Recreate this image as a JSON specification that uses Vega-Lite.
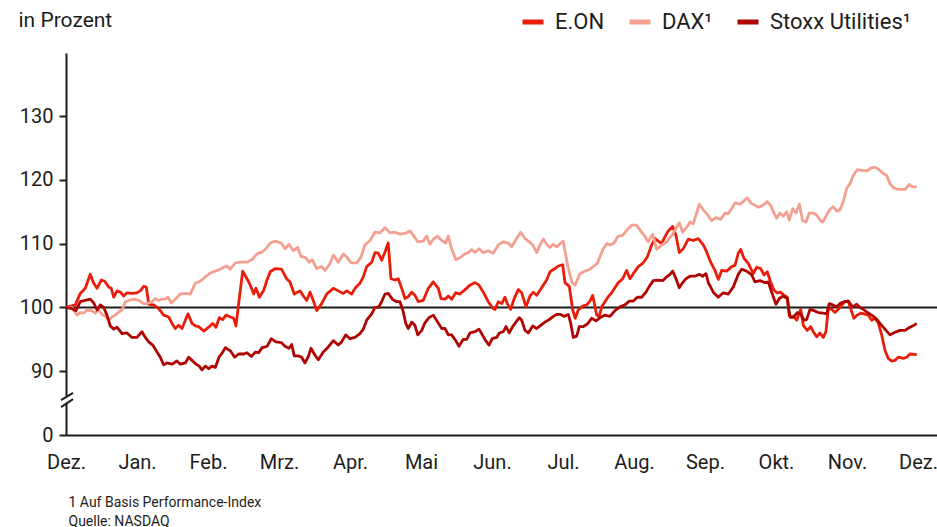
{
"$schema":"https://vega.github.io/schema/vega-lite/v6.json",
"width":871,"height":382,
"autosize":{"type":"none"},
"padding":{"left":66,"top":53,"right":0,"bottom":92},
"background":"#ffffff",
"config":{"view":{"stroke":null},"font":"Roboto",
"axis":{"domainColor":"#1d1d1b","domainWidth":2,"tickColor":"#1d1d1b","tickWidth":2,"labelColor":"#1d1d1b","labelFont":"Roboto","labelFontSize":20,"grid":false,"titleFont":"Roboto","titleColor":"#1d1d1b","titleFontWeight":"normal"}},
"encoding":{
"x":{"field":"t","type":"quantitative","scale":{"domain":[0,12.268],"nice":false,"zero":false},
"axis":{"values":[0,1,2,3,4,5,6,7,8,9,10,11,12],"labelExpr":"['Dez.','Jan.','Feb.','Mrz.','Apr.','Mai','Jun.','Jul.','Aug.','Sep.','Okt.','Nov.','Dez.'][datum.value]","ticks":false,"labelPadding":17,"labelFlush":false,"labelOverlap":false,"labelBound":false,
"title":["1 Auf Basis Performance-Index","Quelle: NASDAQ"],"titleFontSize":14,"titleAnchor":"start","titleAlign":"left","titleX":2,"titleY":60,"titleBaseline":"top","titleLineHeight":19}},
"y":{"field":"v","type":"quantitative","scale":{"domain":[80,139.9],"nice":false,"zero":false},
"axis":{"values":[80,90,100,110,120,130],"labelExpr":"datum.value == 80 ? '0' : datum.label","tickSize":7,"labelPadding":6,
"title":"in Prozent","titleAngle":0,"titleAlign":"left","titleBaseline":"middle","titleX":-48,"titleY":-33,"titleFontSize":21}}
},
"layer":[
{"data":{"values":[{"t":0,"t2":12.268,"v":100}]},"mark":{"type":"rule","color":"#1d1d1b","strokeWidth":2},"encoding":{"x2":{"field":"t2"}}},
{"data":{"values":[
{"s":"E","t":0,"v":100},{"s":"E","t":0.131,"v":100.4},{"s":"E","t":0.201,"v":102.2},{"s":"E","t":0.272,"v":103.0},{"s":"E","t":0.342,"v":105.2},{"s":"E","t":0.390,"v":103.8},{"s":"E","t":0.437,"v":103.0},{"s":"E","t":0.497,"v":104.3},{"s":"E","t":0.545,"v":104.1},{"s":"E","t":0.601,"v":103.2},{"s":"E","t":0.638,"v":103.0},{"s":"E","t":0.672,"v":101.6},{"s":"E","t":0.718,"v":102.6},{"s":"E","t":0.765,"v":102.4},{"s":"E","t":0.813,"v":101.8},{"s":"E","t":0.859,"v":102.3},{"s":"E","t":0.930,"v":102.2},{"s":"E","t":1.0,"v":102.3},{"s":"E","t":1.046,"v":102.6},{"s":"E","t":1.094,"v":103.3},{"s":"E","t":1.131,"v":103.2},{"s":"E","t":1.165,"v":100.5},{"s":"E","t":1.235,"v":100.4},{"s":"E","t":1.306,"v":99.8},{"s":"E","t":1.376,"v":98.8},{"s":"E","t":1.446,"v":98.5},{"s":"E","t":1.493,"v":97.5},{"s":"E","t":1.539,"v":96.7},{"s":"E","t":1.587,"v":97.2},{"s":"E","t":1.634,"v":96.7},{"s":"E","t":1.718,"v":99.0},{"s":"E","t":1.775,"v":97.5},{"s":"E","t":1.821,"v":97.1},{"s":"E","t":1.869,"v":97.0},{"s":"E","t":1.939,"v":96.3},{"s":"E","t":2.010,"v":96.9},{"s":"E","t":2.066,"v":97.5},{"s":"E","t":2.113,"v":96.9},{"s":"E","t":2.159,"v":98.4},{"s":"E","t":2.207,"v":98.1},{"s":"E","t":2.254,"v":98.8},{"s":"E","t":2.314,"v":98.5},{"s":"E","t":2.362,"v":98.3},{"s":"E","t":2.394,"v":97.1},{"s":"E","t":2.432,"v":100.6},{"s":"E","t":2.489,"v":105.7},{"s":"E","t":2.549,"v":104.5},{"s":"E","t":2.596,"v":103.5},{"s":"E","t":2.644,"v":102.1},{"s":"E","t":2.676,"v":103.0},{"s":"E","t":2.723,"v":101.6},{"s":"E","t":2.785,"v":102.7},{"s":"E","t":2.831,"v":104.3},{"s":"E","t":2.877,"v":105.6},{"s":"E","t":2.948,"v":106.1},{"s":"E","t":3.035,"v":106.0},{"s":"E","t":3.108,"v":104.5},{"s":"E","t":3.155,"v":104.0},{"s":"E","t":3.215,"v":102.1},{"s":"E","t":3.296,"v":102.6},{"s":"E","t":3.356,"v":101.6},{"s":"E","t":3.390,"v":101.1},{"s":"E","t":3.437,"v":102.4},{"s":"E","t":3.483,"v":101.1},{"s":"E","t":3.531,"v":99.5},{"s":"E","t":3.601,"v":100.6},{"s":"E","t":3.672,"v":102.1},{"s":"E","t":3.765,"v":103.0},{"s":"E","t":3.835,"v":102.6},{"s":"E","t":3.906,"v":102.2},{"s":"E","t":3.954,"v":102.6},{"s":"E","t":4.024,"v":102.1},{"s":"E","t":4.070,"v":103.0},{"s":"E","t":4.141,"v":103.8},{"s":"E","t":4.187,"v":104.8},{"s":"E","t":4.235,"v":106.4},{"s":"E","t":4.306,"v":107.1},{"s":"E","t":4.352,"v":108.6},{"s":"E","t":4.399,"v":108.5},{"s":"E","t":4.446,"v":107.4},{"s":"E","t":4.493,"v":108.7},{"s":"E","t":4.539,"v":110.1},{"s":"E","t":4.577,"v":104.5},{"s":"E","t":4.634,"v":104.3},{"s":"E","t":4.680,"v":104.5},{"s":"E","t":4.728,"v":103.0},{"s":"E","t":4.775,"v":101.4},{"s":"E","t":4.821,"v":101.7},{"s":"E","t":4.869,"v":102.4},{"s":"E","t":4.915,"v":101.9},{"s":"E","t":4.962,"v":100.9},{"s":"E","t":5.032,"v":101.1},{"s":"E","t":5.103,"v":103.0},{"s":"E","t":5.173,"v":104.0},{"s":"E","t":5.244,"v":103.0},{"s":"E","t":5.282,"v":101.4},{"s":"E","t":5.338,"v":101.3},{"s":"E","t":5.385,"v":101.8},{"s":"E","t":5.432,"v":101.3},{"s":"E","t":5.489,"v":102.3},{"s":"E","t":5.549,"v":102.1},{"s":"E","t":5.620,"v":102.8},{"s":"E","t":5.690,"v":103.5},{"s":"E","t":5.761,"v":103.9},{"s":"E","t":5.817,"v":103.5},{"s":"E","t":5.877,"v":102.4},{"s":"E","t":5.948,"v":100.9},{"s":"E","t":6.018,"v":99.8},{"s":"E","t":6.042,"v":99.7},{"s":"E","t":6.089,"v":100.9},{"s":"E","t":6.137,"v":100.6},{"s":"E","t":6.183,"v":101.6},{"s":"E","t":6.215,"v":100.6},{"s":"E","t":6.263,"v":99.7},{"s":"E","t":6.310,"v":101.3},{"s":"E","t":6.370,"v":102.8},{"s":"E","t":6.418,"v":102.3},{"s":"E","t":6.479,"v":100.1},{"s":"E","t":6.535,"v":101.8},{"s":"E","t":6.582,"v":102.4},{"s":"E","t":6.630,"v":101.9},{"s":"E","t":6.676,"v":102.7},{"s":"E","t":6.723,"v":103.5},{"s":"E","t":6.770,"v":104.3},{"s":"E","t":6.817,"v":105.6},{"s":"E","t":6.887,"v":106.1},{"s":"E","t":6.934,"v":106.5},{"s":"E","t":6.996,"v":106.7},{"s":"E","t":7.028,"v":103.9},{"s":"E","t":7.089,"v":103.3},{"s":"E","t":7.137,"v":99.6},{"s":"E","t":7.173,"v":98.3},{"s":"E","t":7.215,"v":99.6},{"s":"E","t":7.277,"v":100.2},{"s":"E","t":7.334,"v":100.4},{"s":"E","t":7.380,"v":101.0},{"s":"E","t":7.418,"v":101.9},{"s":"E","t":7.451,"v":100.1},{"s":"E","t":7.475,"v":98.8},{"s":"E","t":7.511,"v":98.6},{"s":"E","t":7.545,"v":100.1},{"s":"E","t":7.592,"v":100.9},{"s":"E","t":7.638,"v":101.7},{"s":"E","t":7.686,"v":102.3},{"s":"E","t":7.732,"v":103.1},{"s":"E","t":7.779,"v":103.9},{"s":"E","t":7.841,"v":104.5},{"s":"E","t":7.897,"v":105.8},{"s":"E","t":7.944,"v":104.5},{"s":"E","t":7.990,"v":105.3},{"s":"E","t":8.061,"v":106.4},{"s":"E","t":8.131,"v":107.0},{"s":"E","t":8.187,"v":107.9},{"s":"E","t":8.249,"v":109.8},{"s":"E","t":8.296,"v":110.8},{"s":"E","t":8.342,"v":110.4},{"s":"E","t":8.390,"v":110.0},{"s":"E","t":8.437,"v":111.1},{"s":"E","t":8.483,"v":112.0},{"s":"E","t":8.545,"v":112.7},{"s":"E","t":8.592,"v":111.3},{"s":"E","t":8.638,"v":108.6},{"s":"E","t":8.694,"v":109.2},{"s":"E","t":8.765,"v":110.7},{"s":"E","t":8.835,"v":110.5},{"s":"E","t":8.906,"v":110.8},{"s":"E","t":8.976,"v":109.8},{"s":"E","t":9.024,"v":108.7},{"s":"E","t":9.080,"v":107.1},{"s":"E","t":9.141,"v":105.8},{"s":"E","t":9.187,"v":104.4},{"s":"E","t":9.235,"v":105.8},{"s":"E","t":9.306,"v":105.7},{"s":"E","t":9.376,"v":106.4},{"s":"E","t":9.423,"v":106.6},{"s":"E","t":9.469,"v":108.5},{"s":"E","t":9.503,"v":109.1},{"s":"E","t":9.549,"v":107.7},{"s":"E","t":9.610,"v":106.9},{"s":"E","t":9.680,"v":105.3},{"s":"E","t":9.728,"v":106.3},{"s":"E","t":9.785,"v":106.1},{"s":"E","t":9.831,"v":105.1},{"s":"E","t":9.877,"v":105.6},{"s":"E","t":9.925,"v":104.0},{"s":"E","t":9.972,"v":102.7},{"s":"E","t":10.018,"v":102.3},{"s":"E","t":10.066,"v":102.4},{"s":"E","t":10.113,"v":101.9},{"s":"E","t":10.159,"v":101.6},{"s":"E","t":10.187,"v":98.8},{"s":"E","t":10.221,"v":98.4},{"s":"E","t":10.254,"v":98.5},{"s":"E","t":10.292,"v":98.0},{"s":"E","t":10.348,"v":99.7},{"s":"E","t":10.385,"v":97.2},{"s":"E","t":10.441,"v":96.4},{"s":"E","t":10.489,"v":97.0},{"s":"E","t":10.525,"v":96.2},{"s":"E","t":10.573,"v":95.4},{"s":"E","t":10.620,"v":96.0},{"s":"E","t":10.666,"v":95.3},{"s":"E","t":10.704,"v":96.2},{"s":"E","t":10.737,"v":99.8},{"s":"E","t":10.785,"v":99.7},{"s":"E","t":10.831,"v":99.2},{"s":"E","t":10.877,"v":99.7},{"s":"E","t":10.925,"v":100.4},{"s":"E","t":10.972,"v":100.9},{"s":"E","t":11.018,"v":101.0},{"s":"E","t":11.052,"v":99.8},{"s":"E","t":11.099,"v":98.3},{"s":"E","t":11.145,"v":98.8},{"s":"E","t":11.193,"v":99.1},{"s":"E","t":11.239,"v":99.0},{"s":"E","t":11.300,"v":98.8},{"s":"E","t":11.348,"v":98.0},{"s":"E","t":11.394,"v":98.3},{"s":"E","t":11.441,"v":97.6},{"s":"E","t":11.489,"v":95.7},{"s":"E","t":11.535,"v":93.3},{"s":"E","t":11.582,"v":92.0},{"s":"E","t":11.630,"v":91.6},{"s":"E","t":11.676,"v":91.7},{"s":"E","t":11.723,"v":92.2},{"s":"E","t":11.793,"v":92.0},{"s":"E","t":11.841,"v":92.2},{"s":"E","t":11.887,"v":92.7},{"s":"E","t":11.982,"v":92.6},
{"s":"D","t":0,"v":100},{"s":"D","t":0.085,"v":100.0},{"s":"D","t":0.155,"v":98.8},{"s":"D","t":0.201,"v":99.2},{"s":"D","t":0.249,"v":99.1},{"s":"D","t":0.296,"v":99.6},{"s":"D","t":0.366,"v":99.5},{"s":"D","t":0.413,"v":99.1},{"s":"D","t":0.461,"v":99.6},{"s":"D","t":0.507,"v":98.9},{"s":"D","t":0.554,"v":98.6},{"s":"D","t":0.601,"v":98.0},{"s":"D","t":0.648,"v":98.5},{"s":"D","t":0.694,"v":98.8},{"s":"D","t":0.742,"v":99.3},{"s":"D","t":0.789,"v":99.6},{"s":"D","t":0.835,"v":100.9},{"s":"D","t":0.883,"v":101.1},{"s":"D","t":0.954,"v":101.3},{"s":"D","t":1.024,"v":101.1},{"s":"D","t":1.094,"v":100.6},{"s":"D","t":1.141,"v":100.6},{"s":"D","t":1.211,"v":100.9},{"s":"D","t":1.258,"v":101.4},{"s":"D","t":1.306,"v":101.1},{"s":"D","t":1.352,"v":101.3},{"s":"D","t":1.399,"v":101.3},{"s":"D","t":1.437,"v":101.6},{"s":"D","t":1.483,"v":100.7},{"s":"D","t":1.539,"v":101.3},{"s":"D","t":1.610,"v":102.1},{"s":"D","t":1.680,"v":102.2},{"s":"D","t":1.751,"v":102.1},{"s":"D","t":1.821,"v":103.8},{"s":"D","t":1.869,"v":104.0},{"s":"D","t":1.915,"v":104.3},{"s":"D","t":1.962,"v":104.8},{"s":"D","t":2.032,"v":105.4},{"s":"D","t":2.103,"v":105.7},{"s":"D","t":2.173,"v":106.0},{"s":"D","t":2.221,"v":106.3},{"s":"D","t":2.268,"v":106.5},{"s":"D","t":2.314,"v":106.0},{"s":"D","t":2.385,"v":107.0},{"s":"D","t":2.455,"v":107.1},{"s":"D","t":2.549,"v":107.1},{"s":"D","t":2.620,"v":107.5},{"s":"D","t":2.690,"v":108.4},{"s":"D","t":2.761,"v":108.7},{"s":"D","t":2.817,"v":109.2},{"s":"D","t":2.877,"v":110.1},{"s":"D","t":2.948,"v":110.4},{"s":"D","t":3.032,"v":110.1},{"s":"D","t":3.085,"v":109.2},{"s":"D","t":3.141,"v":109.9},{"s":"D","t":3.201,"v":108.9},{"s":"D","t":3.263,"v":109.4},{"s":"D","t":3.310,"v":108.0},{"s":"D","t":3.376,"v":107.8},{"s":"D","t":3.423,"v":107.1},{"s":"D","t":3.469,"v":107.5},{"s":"D","t":3.531,"v":106.1},{"s":"D","t":3.601,"v":106.4},{"s":"D","t":3.648,"v":105.8},{"s":"D","t":3.718,"v":106.9},{"s":"D","t":3.765,"v":108.2},{"s":"D","t":3.835,"v":107.1},{"s":"D","t":3.906,"v":108.4},{"s":"D","t":3.954,"v":107.9},{"s":"D","t":4.014,"v":107.0},{"s":"D","t":4.094,"v":107.0},{"s":"D","t":4.155,"v":107.9},{"s":"D","t":4.211,"v":109.8},{"s":"D","t":4.282,"v":110.5},{"s":"D","t":4.352,"v":111.8},{"s":"D","t":4.423,"v":111.7},{"s":"D","t":4.493,"v":112.5},{"s":"D","t":4.563,"v":111.7},{"s":"D","t":4.634,"v":111.8},{"s":"D","t":4.704,"v":111.5},{"s":"D","t":4.775,"v":111.6},{"s":"D","t":4.845,"v":112.0},{"s":"D","t":4.892,"v":111.3},{"s":"D","t":4.954,"v":110.3},{"s":"D","t":5.032,"v":110.4},{"s":"D","t":5.080,"v":111.2},{"s":"D","t":5.127,"v":109.9},{"s":"D","t":5.173,"v":110.7},{"s":"D","t":5.230,"v":111.2},{"s":"D","t":5.292,"v":110.5},{"s":"D","t":5.348,"v":110.1},{"s":"D","t":5.385,"v":111.2},{"s":"D","t":5.432,"v":109.2},{"s":"D","t":5.489,"v":107.5},{"s":"D","t":5.549,"v":107.8},{"s":"D","t":5.620,"v":108.4},{"s":"D","t":5.666,"v":108.6},{"s":"D","t":5.714,"v":109.1},{"s":"D","t":5.761,"v":108.6},{"s":"D","t":5.817,"v":109.2},{"s":"D","t":5.877,"v":108.6},{"s":"D","t":5.948,"v":108.9},{"s":"D","t":6.018,"v":108.5},{"s":"D","t":6.089,"v":109.8},{"s":"D","t":6.159,"v":110.3},{"s":"D","t":6.230,"v":110.1},{"s":"D","t":6.277,"v":109.5},{"s":"D","t":6.348,"v":110.8},{"s":"D","t":6.404,"v":111.8},{"s":"D","t":6.465,"v":110.8},{"s":"D","t":6.525,"v":110.3},{"s":"D","t":6.573,"v":109.8},{"s":"D","t":6.630,"v":108.6},{"s":"D","t":6.686,"v":110.0},{"s":"D","t":6.723,"v":110.7},{"s":"D","t":6.770,"v":109.9},{"s":"D","t":6.817,"v":109.4},{"s":"D","t":6.863,"v":109.9},{"s":"D","t":6.911,"v":109.5},{"s":"D","t":6.958,"v":110.0},{"s":"D","t":7.004,"v":110.4},{"s":"D","t":7.061,"v":106.9},{"s":"D","t":7.123,"v":104.0},{"s":"D","t":7.169,"v":103.5},{"s":"D","t":7.201,"v":104.3},{"s":"D","t":7.239,"v":105.3},{"s":"D","t":7.310,"v":105.7},{"s":"D","t":7.380,"v":106.0},{"s":"D","t":7.437,"v":106.5},{"s":"D","t":7.483,"v":106.9},{"s":"D","t":7.521,"v":108.0},{"s":"D","t":7.568,"v":109.2},{"s":"D","t":7.615,"v":110.0},{"s":"D","t":7.672,"v":109.8},{"s":"D","t":7.718,"v":110.1},{"s":"D","t":7.779,"v":111.2},{"s":"D","t":7.841,"v":111.3},{"s":"D","t":7.897,"v":112.1},{"s":"D","t":7.968,"v":112.9},{"s":"D","t":8.038,"v":112.9},{"s":"D","t":8.108,"v":111.8},{"s":"D","t":8.155,"v":111.1},{"s":"D","t":8.201,"v":110.3},{"s":"D","t":8.263,"v":111.5},{"s":"D","t":8.320,"v":109.1},{"s":"D","t":8.390,"v":109.8},{"s":"D","t":8.461,"v":110.3},{"s":"D","t":8.531,"v":111.3},{"s":"D","t":8.577,"v":112.1},{"s":"D","t":8.638,"v":113.3},{"s":"D","t":8.686,"v":111.8},{"s":"D","t":8.751,"v":112.7},{"s":"D","t":8.789,"v":113.4},{"s":"D","t":8.835,"v":113.1},{"s":"D","t":8.873,"v":114.5},{"s":"D","t":8.920,"v":116.2},{"s":"D","t":8.976,"v":115.3},{"s":"D","t":9.032,"v":114.6},{"s":"D","t":9.094,"v":113.6},{"s":"D","t":9.155,"v":114.1},{"s":"D","t":9.221,"v":113.8},{"s":"D","t":9.282,"v":114.8},{"s":"D","t":9.328,"v":114.7},{"s":"D","t":9.376,"v":115.5},{"s":"D","t":9.423,"v":116.4},{"s":"D","t":9.493,"v":116.2},{"s":"D","t":9.539,"v":116.6},{"s":"D","t":9.596,"v":117.2},{"s":"D","t":9.644,"v":116.4},{"s":"D","t":9.704,"v":116.0},{"s":"D","t":9.751,"v":115.7},{"s":"D","t":9.813,"v":116.0},{"s":"D","t":9.877,"v":116.6},{"s":"D","t":9.925,"v":116.0},{"s":"D","t":9.972,"v":114.8},{"s":"D","t":10.010,"v":114.0},{"s":"D","t":10.056,"v":114.8},{"s":"D","t":10.103,"v":114.3},{"s":"D","t":10.151,"v":115.0},{"s":"D","t":10.187,"v":113.7},{"s":"D","t":10.235,"v":115.5},{"s":"D","t":10.282,"v":114.8},{"s":"D","t":10.328,"v":116.2},{"s":"D","t":10.376,"v":113.6},{"s":"D","t":10.423,"v":113.4},{"s":"D","t":10.469,"v":114.8},{"s":"D","t":10.525,"v":114.8},{"s":"D","t":10.573,"v":114.5},{"s":"D","t":10.620,"v":113.7},{"s":"D","t":10.658,"v":113.4},{"s":"D","t":10.704,"v":114.3},{"s":"D","t":10.761,"v":115.4},{"s":"D","t":10.807,"v":115.8},{"s":"D","t":10.855,"v":115.1},{"s":"D","t":10.901,"v":115.3},{"s":"D","t":10.948,"v":116.6},{"s":"D","t":10.996,"v":118.7},{"s":"D","t":11.042,"v":119.4},{"s":"D","t":11.089,"v":120.7},{"s":"D","t":11.145,"v":121.6},{"s":"D","t":11.207,"v":121.5},{"s":"D","t":11.277,"v":121.4},{"s":"D","t":11.348,"v":121.9},{"s":"D","t":11.394,"v":122.0},{"s":"D","t":11.455,"v":121.6},{"s":"D","t":11.511,"v":121.0},{"s":"D","t":11.559,"v":120.7},{"s":"D","t":11.606,"v":119.4},{"s":"D","t":11.662,"v":118.7},{"s":"D","t":11.723,"v":118.5},{"s":"D","t":11.817,"v":118.5},{"s":"D","t":11.878,"v":119.3},{"s":"D","t":11.925,"v":118.9},{"s":"D","t":11.982,"v":118.9},
{"s":"S","t":0,"v":100},{"s":"S","t":0.085,"v":99.8},{"s":"S","t":0.141,"v":99.5},{"s":"S","t":0.201,"v":100.9},{"s":"S","t":0.272,"v":101.1},{"s":"S","t":0.342,"v":101.3},{"s":"S","t":0.390,"v":100.7},{"s":"S","t":0.437,"v":99.6},{"s":"S","t":0.483,"v":100.4},{"s":"S","t":0.531,"v":100.0},{"s":"S","t":0.577,"v":98.8},{"s":"S","t":0.624,"v":97.1},{"s":"S","t":0.672,"v":96.6},{"s":"S","t":0.718,"v":96.9},{"s":"S","t":0.789,"v":95.9},{"s":"S","t":0.859,"v":96.0},{"s":"S","t":0.930,"v":95.3},{"s":"S","t":1.000,"v":95.3},{"s":"S","t":1.070,"v":96.2},{"s":"S","t":1.117,"v":95.3},{"s":"S","t":1.165,"v":94.6},{"s":"S","t":1.221,"v":94.1},{"s":"S","t":1.282,"v":93.0},{"s":"S","t":1.328,"v":92.2},{"s":"S","t":1.376,"v":91.0},{"s":"S","t":1.423,"v":91.3},{"s":"S","t":1.493,"v":91.1},{"s":"S","t":1.563,"v":91.6},{"s":"S","t":1.610,"v":91.1},{"s":"S","t":1.680,"v":91.3},{"s":"S","t":1.728,"v":92.2},{"s":"S","t":1.775,"v":91.7},{"s":"S","t":1.821,"v":91.2},{"s":"S","t":1.877,"v":90.8},{"s":"S","t":1.915,"v":90.2},{"s":"S","t":1.962,"v":90.8},{"s":"S","t":2.010,"v":90.4},{"s":"S","t":2.056,"v":90.8},{"s":"S","t":2.103,"v":90.6},{"s":"S","t":2.159,"v":92.3},{"s":"S","t":2.197,"v":92.8},{"s":"S","t":2.244,"v":93.7},{"s":"S","t":2.314,"v":93.2},{"s":"S","t":2.376,"v":92.2},{"s":"S","t":2.432,"v":92.7},{"s":"S","t":2.503,"v":92.7},{"s":"S","t":2.549,"v":92.9},{"s":"S","t":2.610,"v":92.3},{"s":"S","t":2.666,"v":93.0},{"s":"S","t":2.714,"v":92.9},{"s":"S","t":2.761,"v":93.7},{"s":"S","t":2.831,"v":93.9},{"s":"S","t":2.892,"v":95.1},{"s":"S","t":2.958,"v":94.6},{"s":"S","t":3.032,"v":94.5},{"s":"S","t":3.085,"v":93.9},{"s":"S","t":3.141,"v":93.6},{"s":"S","t":3.179,"v":94.2},{"s":"S","t":3.215,"v":92.4},{"s":"S","t":3.272,"v":92.4},{"s":"S","t":3.320,"v":92.2},{"s":"S","t":3.366,"v":91.3},{"s":"S","t":3.413,"v":92.3},{"s":"S","t":3.451,"v":93.6},{"s":"S","t":3.507,"v":92.5},{"s":"S","t":3.554,"v":91.8},{"s":"S","t":3.624,"v":93.0},{"s":"S","t":3.694,"v":93.8},{"s":"S","t":3.765,"v":94.8},{"s":"S","t":3.835,"v":94.1},{"s":"S","t":3.883,"v":94.6},{"s":"S","t":3.939,"v":95.7},{"s":"S","t":4.000,"v":95.1},{"s":"S","t":4.070,"v":95.3},{"s":"S","t":4.141,"v":95.9},{"s":"S","t":4.187,"v":96.6},{"s":"S","t":4.235,"v":98.0},{"s":"S","t":4.306,"v":99.0},{"s":"S","t":4.352,"v":100.0},{"s":"S","t":4.399,"v":100.0},{"s":"S","t":4.446,"v":100.9},{"s":"S","t":4.493,"v":102.1},{"s":"S","t":4.539,"v":102.2},{"s":"S","t":4.596,"v":101.3},{"s":"S","t":4.658,"v":100.9},{"s":"S","t":4.704,"v":100.9},{"s":"S","t":4.751,"v":99.3},{"s":"S","t":4.785,"v":97.5},{"s":"S","t":4.821,"v":96.7},{"s":"S","t":4.869,"v":97.7},{"s":"S","t":4.915,"v":97.2},{"s":"S","t":4.954,"v":95.7},{"s":"S","t":5.010,"v":96.4},{"s":"S","t":5.056,"v":97.6},{"s":"S","t":5.113,"v":98.4},{"s":"S","t":5.173,"v":98.8},{"s":"S","t":5.235,"v":97.7},{"s":"S","t":5.292,"v":96.7},{"s":"S","t":5.338,"v":96.7},{"s":"S","t":5.385,"v":95.7},{"s":"S","t":5.432,"v":95.7},{"s":"S","t":5.489,"v":94.8},{"s":"S","t":5.535,"v":93.9},{"s":"S","t":5.596,"v":95.0},{"s":"S","t":5.644,"v":95.0},{"s":"S","t":5.690,"v":96.0},{"s":"S","t":5.761,"v":96.2},{"s":"S","t":5.817,"v":96.6},{"s":"S","t":5.864,"v":95.7},{"s":"S","t":5.911,"v":94.8},{"s":"S","t":5.958,"v":94.1},{"s":"S","t":6.004,"v":95.1},{"s":"S","t":6.066,"v":95.3},{"s":"S","t":6.103,"v":96.0},{"s":"S","t":6.159,"v":96.2},{"s":"S","t":6.197,"v":97.0},{"s":"S","t":6.244,"v":96.0},{"s":"S","t":6.291,"v":97.0},{"s":"S","t":6.338,"v":97.7},{"s":"S","t":6.385,"v":98.4},{"s":"S","t":6.418,"v":98.0},{"s":"S","t":6.465,"v":96.4},{"s":"S","t":6.511,"v":96.0},{"s":"S","t":6.573,"v":97.1},{"s":"S","t":6.630,"v":96.7},{"s":"S","t":6.686,"v":97.2},{"s":"S","t":6.746,"v":97.7},{"s":"S","t":6.807,"v":98.1},{"s":"S","t":6.863,"v":98.6},{"s":"S","t":6.911,"v":98.9},{"s":"S","t":6.968,"v":98.9},{"s":"S","t":7.014,"v":98.6},{"s":"S","t":7.075,"v":98.9},{"s":"S","t":7.108,"v":97.6},{"s":"S","t":7.145,"v":95.3},{"s":"S","t":7.193,"v":95.5},{"s":"S","t":7.230,"v":97.0},{"s":"S","t":7.286,"v":97.0},{"s":"S","t":7.342,"v":97.4},{"s":"S","t":7.404,"v":98.3},{"s":"S","t":7.465,"v":97.9},{"s":"S","t":7.521,"v":98.4},{"s":"S","t":7.592,"v":98.8},{"s":"S","t":7.662,"v":98.6},{"s":"S","t":7.732,"v":99.5},{"s":"S","t":7.803,"v":100.1},{"s":"S","t":7.873,"v":100.4},{"s":"S","t":7.934,"v":101.0},{"s":"S","t":7.990,"v":101.0},{"s":"S","t":8.047,"v":101.6},{"s":"S","t":8.108,"v":101.6},{"s":"S","t":8.169,"v":102.4},{"s":"S","t":8.216,"v":103.3},{"s":"S","t":8.272,"v":104.2},{"s":"S","t":8.342,"v":104.3},{"s":"S","t":8.404,"v":104.2},{"s":"S","t":8.461,"v":104.8},{"s":"S","t":8.507,"v":105.2},{"s":"S","t":8.545,"v":105.7},{"s":"S","t":8.592,"v":104.5},{"s":"S","t":8.638,"v":103.1},{"s":"S","t":8.686,"v":103.9},{"s":"S","t":8.732,"v":104.5},{"s":"S","t":8.789,"v":104.9},{"s":"S","t":8.859,"v":104.9},{"s":"S","t":8.920,"v":105.2},{"s":"S","t":8.968,"v":104.9},{"s":"S","t":9.014,"v":105.3},{"s":"S","t":9.047,"v":103.9},{"s":"S","t":9.117,"v":102.4},{"s":"S","t":9.187,"v":101.6},{"s":"S","t":9.258,"v":102.3},{"s":"S","t":9.328,"v":102.1},{"s":"S","t":9.399,"v":103.2},{"s":"S","t":9.469,"v":105.2},{"s":"S","t":9.517,"v":106.0},{"s":"S","t":9.587,"v":105.7},{"s":"S","t":9.658,"v":105.1},{"s":"S","t":9.704,"v":104.0},{"s":"S","t":9.775,"v":104.2},{"s":"S","t":9.845,"v":103.9},{"s":"S","t":9.892,"v":104.0},{"s":"S","t":9.939,"v":102.4},{"s":"S","t":10.000,"v":100.5},{"s":"S","t":10.047,"v":101.4},{"s":"S","t":10.103,"v":101.8},{"s":"S","t":10.159,"v":101.4},{"s":"S","t":10.197,"v":98.5},{"s":"S","t":10.254,"v":98.6},{"s":"S","t":10.300,"v":99.2},{"s":"S","t":10.348,"v":99.0},{"s":"S","t":10.394,"v":98.0},{"s":"S","t":10.432,"v":98.1},{"s":"S","t":10.479,"v":99.7},{"s":"S","t":10.535,"v":99.5},{"s":"S","t":10.596,"v":99.2},{"s":"S","t":10.666,"v":99.1},{"s":"S","t":10.714,"v":99.0},{"s":"S","t":10.751,"v":100.6},{"s":"S","t":10.799,"v":100.4},{"s":"S","t":10.855,"v":100.1},{"s":"S","t":10.911,"v":100.7},{"s":"S","t":10.958,"v":100.9},{"s":"S","t":11.018,"v":101.0},{"s":"S","t":11.080,"v":100.1},{"s":"S","t":11.137,"v":100.5},{"s":"S","t":11.183,"v":100.0},{"s":"S","t":11.230,"v":99.7},{"s":"S","t":11.277,"v":99.3},{"s":"S","t":11.348,"v":98.8},{"s":"S","t":11.408,"v":98.3},{"s":"S","t":11.465,"v":97.5},{"s":"S","t":11.535,"v":96.6},{"s":"S","t":11.606,"v":95.7},{"s":"S","t":11.676,"v":96.1},{"s":"S","t":11.746,"v":96.4},{"s":"S","t":11.817,"v":96.4},{"s":"S","t":11.887,"v":96.9},{"s":"S","t":11.944,"v":97.2},{"s":"S","t":11.982,"v":97.5}
]},
"mark":{"type":"line","strokeWidth":2.8,"strokeJoin":"round"},
"encoding":{"color":{"field":"s","type":"nominal","scale":{"domain":["E","D","S"],"range":["#ea1c0a","#f4a091","#b00402"]},
"legend":{"orient":"none","legendX":454,"legendY":-44,"direction":"horizontal","gridAlign":"none","title":null,"symbolType":"stroke","symbolStrokeWidth":5,"symbolSize":441,"labelFontSize":22,"labelFont":"Roboto","labelColor":"#1d1d1b","labelOffset":9,"columnPadding":14,"padding":0,"labelExpr":"datum.label == 'E' ? 'E.ON' : datum.label == 'D' ? 'DAX¹' : 'Stoxx Utilities¹'"}}}},
{"data":{"values":[{"t":0,"t2":0,"v":84.9,"v2":86.0}]},"mark":{"type":"rule","color":"#ffffff","strokeWidth":5},"encoding":{"x2":{"field":"t2"},"y2":{"field":"v2"}}},
{"data":{"values":[{"t":-0.07,"t2":0.099,"v":84.37,"v2":85.63},{"t":-0.07,"t2":0.099,"v":85.47,"v2":86.6}]},"mark":{"type":"rule","color":"#1d1d1b","strokeWidth":2},"encoding":{"x2":{"field":"t2"},"y2":{"field":"v2"}}}
]
}
